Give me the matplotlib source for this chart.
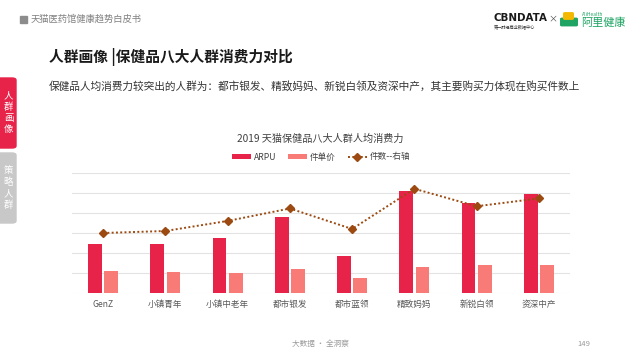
import numpy as np
import matplotlib.pyplot as plt
from matplotlib.patches import FancyBboxPatch, Rectangle

plt.rcParams['font.family'] = ['Noto Sans CJK SC', 'DejaVu Sans']

# data (left axis units = gridline steps)
groups = ['GenZ', '小镇青年', '小镇中老年', '都市银发', '都市蓝领', '精致妈妈', '新锐白领', '资深中产']
arpu = [2.47, 2.47, 2.75, 3.8, 1.88, 5.1, 4.5, 4.92]
unit_price = [1.12, 1.08, 1.03, 1.22, 0.78, 1.33, 1.4, 1.4]
item_count = [3.0, 3.1, 3.6, 4.22, 3.2, 5.2, 4.33, 4.72]

RED = '#E8234A'
SALMON = '#F87B78'
BROWN = '#9C4A12'

fig = plt.figure(figsize=(6.4, 3.6), dpi=100)

# page header
fig.add_artist(Rectangle((20 / 640, 1 - 23 / 360), 7 / 640, 7 / 360,
                         transform=fig.transFigure, color='#8c8c8c'))
fig.text(31 / 640, 1 - 19 / 360, '天猫医药馆健康趋势白皮书', fontsize=6.7,
         color='#808080', va='center')
fig.text(493 / 640, 1 - 18 / 360, 'CBNDATA', fontsize=7.4, fontweight='bold',
         color='#1a1a1a', va='center', family='DejaVu Sans')
fig.text(494 / 640, 1 - 27 / 360, '第一财经商业数据中心', fontsize=3.0,
         color='#333333', va='center')
fig.text(553 / 640, 1 - 19 / 360, '×', fontsize=6.5, color='#555555',
         va='center', ha='center')
fig.add_artist(FancyBboxPatch((562 / 640, 1 - 25 / 360), 14 / 640, 6 / 360,
                              boxstyle='round,pad=0.002',
                              transform=fig.transFigure, color='#1FA463'))
fig.add_artist(FancyBboxPatch((565 / 640, 1 - 18.5 / 360), 7 / 640, 5 / 360,
                              boxstyle='round,pad=0.002',
                              transform=fig.transFigure, color='#F5B800'))
fig.text(582 / 640, 1 - 14 / 360, 'AliHealth', fontsize=3.5,
         color='#1FA463', va='center')
fig.text(581 / 640, 1 - 23 / 360, '阿里健康', fontsize=8, color='#1FA463',
         va='center')

# titles
fig.text(49 / 640, 1 - 57 / 360, '人群画像 |保健品八大人群消费力对比', fontsize=10.6,
         fontweight='bold', color='#1a1a1a', va='center')
fig.text(49 / 640, 1 - 87 / 360,
         '保健品人均消费力较突出的人群为：都市银发、精致妈妈、新锐白领及资深中产，其主要购买力体现在购买件数上',
         fontsize=7.7, color='#333333', va='center')

# side tabs
fig.add_artist(FancyBboxPatch((-4 / 640, 1 - 148 / 360), 20 / 640, 70 / 360,
                              boxstyle='round,pad=0,rounding_size=0.006',
                              transform=fig.transFigure, color=RED))
fig.add_artist(FancyBboxPatch((-4 / 640, 1 - 223 / 360), 20 / 640, 70 / 360,
                              boxstyle='round,pad=0,rounding_size=0.006',
                              transform=fig.transFigure, color='#C8C8C8'))
fig.text(8.5 / 640, 1 - 113 / 360, '人\n群\n画\n像', fontsize=6.8, color='white',
         ha='center', va='center', linespacing=1.3)
fig.text(8.5 / 640, 1 - 188 / 360, '策\n略\n人\n群', fontsize=6.8, color='white',
         ha='center', va='center', linespacing=1.3)

# footer
fig.text(320 / 640, 1 - 344 / 360, '大数据 · 全洞察', fontsize=5.5,
         color='#9a9a9a', ha='center', va='center')
fig.text(584 / 640, 1 - 344 / 360, '149', fontsize=5.5, color='#9a9a9a',
         ha='center', va='center')

# chart
ax = fig.add_axes([72 / 640, 66.7 / 360, 498 / 640, 120.6 / 360])
x = np.arange(len(groups))
w = 0.22
b1 = ax.bar(x - 0.13, arpu, w, color=RED, label='ARPU', zorder=3)
b2 = ax.bar(x + 0.13, unit_price, w, color=SALMON, label='件单价', zorder=3)
ax.set_xlim(-0.5, len(groups) - 0.5)
ax.set_ylim(0, 6)
ax.set_yticks(range(7))
ax.yaxis.grid(True, color='#E3E3E3', linewidth=0.8, zorder=0)
ax.set_yticklabels([])
ax.tick_params(length=0)
ax.set_xticks(x)
ax.set_xticklabels(groups, fontsize=6.2, color='#595959')
ax.tick_params(axis='x', pad=5)
for s in ax.spines.values():
    s.set_visible(False)

ax2 = ax.twinx()
ln, = ax2.plot(x, item_count, linestyle=(0, (1, 1.2)), color=BROWN, linewidth=1.4,
               marker='D', markersize=4.5, label='件数--右轴', zorder=4)
ax2.set_ylim(0, 6)
ax2.set_yticks([])
for s in ax2.spines.values():
    s.set_visible(False)

fig.text(320 / 640, 1 - 139 / 360, '2019 天猫保健品八大人群人均消费力', fontsize=7.3,
         color='#404040', ha='center', va='center')
fig.legend([b1, b2, ln], ['ARPU', '件单价', '件数--右轴'], loc='center',
           bbox_to_anchor=(321 / 640, 1 - 157 / 360), ncol=3, frameon=False,
           fontsize=6.2, handlelength=2.2, handleheight=0.5, columnspacing=1.4,
           handletextpad=0.3, labelcolor='#404040')

fig.savefig('out.png', dpi=100)
